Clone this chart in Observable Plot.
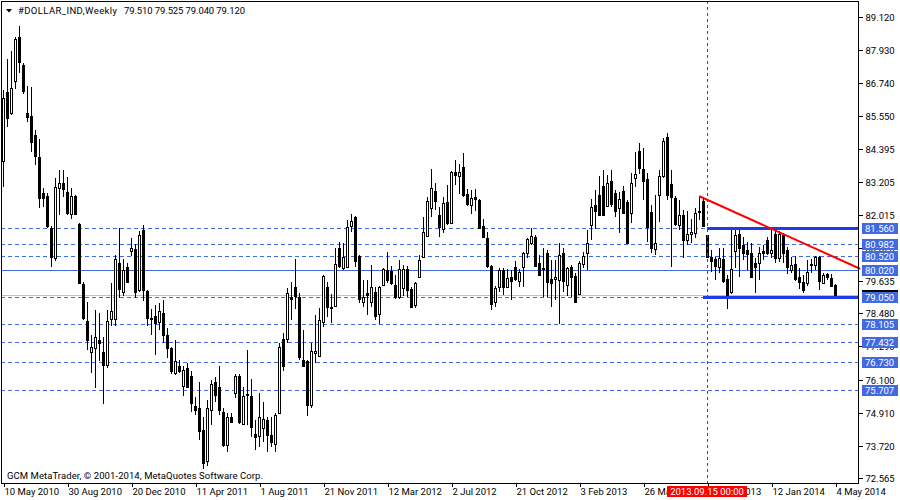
<!DOCTYPE html>
<html>
<head>
<meta charset="utf-8">
<script src="https://cdn.jsdelivr.net/npm/d3@7"></script>
<script src="https://cdn.jsdelivr.net/npm/@observablehq/plot@0.6"></script>
<style>
html,body{margin:0;padding:0;background:#fff;}
#chart svg{display:block;}
</style>
</head>
<body>
<div id="chart"></div>
<script>
// Weekly OHLC of #DOLLAR_IND, one entry per week from 10 May 2010 to 4 May 2014
const openP = [
83.95,86.42,85.66,86.83,88.39,87.40,85.66,85.57,84.88,84.09,
82.79,82.69,81.53,80.46,82.99,83.15,82.83,82.04,82.69,81.68,
79.52,78.21,77.10,77.23,77.53,77.08,76.63,78.28,78.28,80.28,
79.24,80.16,80.72,80.79,79.32,81.47,79.28,78.30,78.40,78.16,
78.48,77.70,77.24,76.33,76.57,75.87,76.51,76.24,75.15,75.07,
74.29,73.16,75.01,76.03,75.83,74.93,73.75,74.77,75.61,76.21,
74.51,75.53,75.51,74.15,74.08,74.35,74.65,74.11,73.79,74.89,
77.55,77.55,79.06,79.41,79.06,76.81,76.75,75.17,77.05,76.95,
78.18,79.41,78.72,78.74,80.82,80.10,80.13,81.62,81.95,80.54,
78.90,79.20,78.90,79.26,78.46,79.50,80.04,80.01,79.50,79.06,
79.40,80.06,79.34,78.78,79.77,80.51,81.27,82.25,82.87,82.01,
81.50,82.49,81.71,83.57,83.41,83.72,82.77,82.37,82.65,82.55,
81.62,81.17,80.18,78.90,79.44,80.04,79.44,79.77,80.16,79.65,
80.16,80.64,81.02,81.21,80.28,80.12,80.64,79.70,79.70,79.68,
80.66,79.50,80.16,79.82,79.17,80.25,80.66,81.65,82.37,82.73,
83.05,82.33,83.23,82.81,82.25,82.88,82.49,82.09,83.33,84.32,
83.65,83.29,82.13,80.78,82.73,83.41,84.82,83.12,82.61,81.65,
82.01,81.11,81.33,81.37,82.10,82.52,81.29,80.49,80.42,80.13,
80.42,79.70,79.26,80.73,81.33,80.93,80.76,80.66,80.28,80.30,
80.73,81.11,80.66,81.33,80.46,81.29,80.76,80.02,80.25,79.80,
79.62,79.56,80.25,80.22,80.49,79.58,79.89,79.74,79.51];
const highP = [
86.50,87.62,87.90,88.41,88.78,87.46,86.65,86.62,85.06,84.74,
82.97,82.79,81.62,83.33,83.63,83.63,83.39,82.97,82.72,81.71,
79.61,78.88,77.70,78.60,78.48,77.64,78.60,79.56,80.58,81.53,
80.43,80.28,81.20,80.96,81.44,81.65,79.30,78.64,78.78,78.84,
78.96,77.94,77.26,77.52,76.81,76.57,76.69,76.39,75.49,76.03,
74.77,75.37,76.09,76.18,76.57,75.07,74.91,74.91,76.30,76.30,
75.85,77.17,76.11,74.65,75.61,75.31,74.77,74.77,74.89,77.43,
77.76,79.38,79.62,80.42,79.20,77.88,76.80,77.41,78.43,78.66,
79.86,79.62,79.17,80.82,81.05,81.00,81.83,82.05,81.98,80.58,
79.68,79.68,80.22,79.44,79.46,80.10,80.69,80.18,79.86,80.40,
80.20,80.18,79.44,79.62,80.58,81.95,82.67,83.65,83.17,82.31,
82.67,83.09,83.60,83.99,83.84,84.23,82.93,82.91,82.93,82.58,
81.86,81.41,80.20,79.46,80.10,80.10,80.06,80.04,80.34,80.06,
80.69,81.18,81.53,81.29,80.58,80.82,80.76,80.40,80.40,80.99,
80.82,80.16,80.22,79.92,80.34,80.69,81.47,82.57,82.91,83.41,
83.63,83.45,83.63,82.91,82.85,83.05,82.55,83.53,84.28,84.61,
84.41,83.51,82.37,82.73,83.63,84.76,84.94,83.63,82.69,82.55,
82.19,82.17,81.86,82.25,82.69,82.57,81.30,80.76,80.49,80.82,
80.82,79.86,81.47,81.47,81.50,81.23,81.05,80.99,80.46,80.87,
80.93,81.21,81.47,81.50,81.42,81.35,80.87,80.51,80.54,80.10,
79.86,80.40,80.42,80.54,80.52,79.92,79.92,79.89,79.525];
const lowP = [
83.00,85.18,85.60,86.55,87.10,86.34,85.34,84.28,83.81,82.25,
82.31,81.53,80.16,80.34,82.01,82.67,82.01,81.87,82.00,79.52,
78.24,77.17,76.33,75.81,76.75,75.22,76.51,78.01,78.01,79.04,
79.11,79.56,80.55,79.04,79.24,78.92,78.01,77.70,76.99,77.88,
77.41,76.87,76.29,76.27,76.33,75.51,75.79,74.95,74.83,73.93,
72.88,72.98,74.47,75.31,74.83,73.69,73.49,74.53,75.43,74.51,
74.48,74.47,74.05,73.57,73.69,73.84,73.51,73.69,73.51,74.85,
76.39,77.43,78.24,78.63,76.81,76.57,74.80,75.07,76.69,76.90,
78.00,78.36,78.12,78.70,80.10,80.04,80.10,81.41,80.16,78.86,
78.72,78.42,78.72,78.24,78.10,79.47,79.56,79.50,78.98,78.98,
79.10,79.08,78.66,78.66,79.74,80.49,81.23,81.95,82.19,81.23,
81.37,81.65,81.68,83.09,82.77,82.65,82.34,82.05,82.17,81.50,
81.17,80.10,78.58,78.72,79.26,79.14,79.40,78.96,79.65,79.44,
79.44,80.45,80.93,80.13,79.82,79.08,79.08,78.72,78.96,78.10,
79.26,79.10,79.06,78.86,79.14,80.10,80.04,81.11,81.50,82.00,
81.98,82.29,82.29,81.95,81.35,82.07,80.99,81.73,83.03,83.48,
82.55,81.05,80.66,80.58,81.77,83.33,82.55,80.16,81.62,81.47,
80.48,80.93,80.99,81.17,81.83,81.59,80.45,79.98,79.68,79.92,
79.56,78.63,79.17,80.10,79.77,80.40,80.04,79.77,79.22,79.68,
80.40,80.58,80.46,80.28,80.33,80.28,79.89,79.92,79.65,79.34,
79.20,79.46,79.92,80.02,79.32,79.54,79.68,79.44,79.04];
const closeP = [
86.21,85.50,86.56,88.33,87.49,86.46,85.54,84.64,84.14,82.63,
82.61,81.63,80.49,83.03,83.15,82.94,82.09,82.69,82.05,79.58,
78.30,77.53,77.28,77.64,77.41,76.63,78.21,78.57,80.43,79.35,
80.04,79.60,80.82,79.26,81.29,79.32,78.32,78.26,78.12,78.57,
77.70,77.24,76.41,76.75,76.42,76.45,75.85,75.25,74.99,74.27,
73.10,75.07,75.94,75.55,74.99,73.75,74.77,74.57,76.21,74.59,
75.51,75.58,74.38,74.03,74.77,74.69,74.11,73.84,74.83,77.26,
76.57,79.20,78.98,79.10,76.90,76.60,75.17,77.14,77.13,78.24,
79.82,78.70,78.66,80.25,80.18,80.50,81.57,81.81,80.37,78.98,
79.06,79.14,79.41,78.38,79.41,80.06,79.68,79.56,79.08,80.06,
80.06,79.30,78.72,79.56,80.40,81.39,82.51,82.97,82.52,81.59,
82.45,81.73,83.57,83.45,83.57,82.73,82.41,82.61,82.57,81.53,
81.21,80.18,78.82,79.38,80.04,79.41,79.74,79.65,79.70,79.98,
80.64,81.14,81.26,80.18,79.86,80.08,79.62,79.58,79.77,80.58,
79.65,80.10,79.77,78.88,80.28,80.54,81.02,82.29,82.17,82.01,
82.01,83.15,82.41,82.17,82.57,82.09,81.02,83.17,83.48,83.69,
83.24,81.57,80.82,80.99,83.41,84.68,82.73,82.65,81.69,82.01,
81.11,81.33,81.41,82.07,82.16,81.62,80.51,80.34,80.18,80.46,
79.65,79.06,80.06,81.29,80.82,80.66,80.61,79.77,80.16,80.64,
80.66,80.64,80.76,80.46,81.33,80.66,80.13,80.22,79.70,79.62,
79.30,79.98,80.22,80.51,79.65,79.86,79.77,79.46,79.12];

// Time axis (week index -> label)
const xTickIdx = [0,16,32,48,64,80,96,112,128,144,160,176,192,208];
const xTickLabels = ["10 May 2010","30 Aug 2010","20 Dec 2010","11 Apr 2011","1 Aug 2011",
  "21 Nov 2011","12 Mar 2012","2 Jul 2012","21 Oct 2012","3 Feb 2013","26 May 2013",
  "15 Sep 2013","12 Jan 2014","4 May 2014"];
// Price axis ticks
const yTicks = [89.12,87.93,86.74,85.55,84.395,83.205,82.015,80.825,79.635,78.48,77.29,76.1,74.91,73.72,72.565];

// Horizontal levels
const dashedLevels = [81.56,80.982,80.52,79.05,78.105,77.432,76.73,75.707];
const solidLevel = 80.02;
const bidPrice = 79.12;
const labelLevels = [81.56,80.982,80.52,80.02,79.05,78.105,77.432,76.73,75.707];
const thickLevels = [81.56, 79.05];
const thickStartIdx = [176, 175];
// Trend line (week index, price)
const trendIdx = [174.1, 214.0];
const trendPrice = [82.70, 80.095];
// Vertical marker
const markerIdx = 176;
const markerLabel = "2013.09.15 00:00";
const titleSymbol = "#DOLLAR_IND,Weekly";
const titleQuote = "79.510 79.525 79.040 79.120";
const footerText = "GCM MetaTrader, \u00A9 2001-2014, MetaQuotes Software Corp.";

const FONT = "Roboto, 'Liberation Sans', sans-serif";
const FS = 9.5;
const BLUE = "#4169E1";
const THICK = "#1E3CE6";

const candles = openP.map((o, i) => ({
  i, o, h: highP[i], l: lowP[i], c: closeP[i],
  lo: Math.min(o, closeP[i]), hi: Math.max(o, closeP[i]), bull: closeP[i] > o
}));
const bulls = candles.filter(d => d.bull);
const labelMap = new Map(xTickIdx.map((d, k) => [d, xTickLabels[k]]));

function overlay(index, scales) {
  const x = scales.x, y = scales.y;
  const g = d3.create("svg:g").attr("font-family", FONT).attr("font-size", FS).attr("text-anchor", "start");
  // bid label (mostly hidden)
  const yb = Math.round(y(bidPrice));
  g.append("rect").attr("x", 862).attr("y", yb - 5).attr("width", 36).attr("height", 11).attr("fill", "black");
  for (const v of labelLevels) {
    const yy = Math.round(y(v));
    g.append("rect").attr("x", 862).attr("y", yy - 5).attr("width", 36).attr("height", 11).attr("fill", BLUE);
    g.append("text").attr("x", 865).attr("y", yy + 4).attr("fill", "white").text(v.toFixed(3));
  }
  // red time label
  const xr = Math.round(x(markerIdx));
  g.append("rect").attr("x", xr - 40).attr("y", 486).attr("width", 80).attr("height", 11).attr("fill", "#ff0000");
  g.append("text").attr("x", xr).attr("y", 495).attr("text-anchor", "middle").attr("fill", "white").text(markerLabel);
  // title
  g.append("path").attr("d", "M6,9L12,9L9,12.5Z").attr("fill", "black");
  g.append("text").attr("x", 18).attr("y", 14).attr("fill", "black")
    .attr("textLength", 99).attr("lengthAdjust", "spacing").text(titleSymbol);
  g.append("text").attr("x", 124).attr("y", 14).attr("fill", "black")
    .attr("textLength", 121).attr("lengthAdjust", "spacing").text(titleQuote);
  // footer
  g.append("text").attr("x", 7).attr("y", 479).attr("fill", "black")
    .attr("textLength", 256).attr("lengthAdjust", "spacing").text(footerText);
  return g.node();
}

const chart = Plot.plot({
  width: 900,
  height: 500,
  marginTop: 1,
  marginLeft: 1,
  marginRight: 42,
  marginBottom: 17,
  style: {fontFamily: FONT, fontSize: FS + "px", background: "white", color: "black", overflow: "visible"},
  x: {type: "linear", domain: [-0.5, 213.75]},
  y: {type: "linear", domain: [72.385, 89.695], round: true},
  marks: [
    Plot.ruleY(dashedLevels, {stroke: BLUE, strokeDasharray: "4,3"}),
    Plot.ruleY([solidLevel], {stroke: BLUE}),
    Plot.ruleY([bidPrice], {stroke: "#c0c0c0"}),
    Plot.ruleX(candles, {x: "i", y1: "l", y2: "h", stroke: "black"}),
    Plot.rect(candles, {x1: d => d.i - 0.25, x2: d => d.i + 0.5, y1: "lo", y2: "hi", fill: "black", insetTop: 0, insetBottom: -1}),
    Plot.rect(bulls, {x1: d => d.i, x2: d => d.i + 0.25, y1: "lo", y2: "hi", fill: "white", insetTop: 1, insetBottom: 0}),
    Plot.ruleY(thickLevels.map((v, k) => ({v, s: thickStartIdx[k]})), {y: "v", x1: "s", x2: 213.75, stroke: THICK, strokeWidth: 3}),
    Plot.line(trendIdx.map((v, k) => ({x: v, y: trendPrice[k]})), {x: "x", y: "y", stroke: "#ff0000", strokeWidth: 2}),
    Plot.ruleX([markerIdx], {stroke: "#ff0000", strokeDasharray: "3,3"}),
    Plot.frame({stroke: "black"}),
    Plot.axisY({anchor: "right", ticks: yTicks, tickFormat: d => d.toFixed(3), tickSize: 4, tickPadding: 3, label: null, fontSize: FS}),
    Plot.axisX({anchor: "bottom", ticks: xTickIdx, tickFormat: d => labelMap.get(d), tickSize: 4, tickPadding: 1, textAnchor: "start", dx: 1, label: null, fontSize: FS}),
    overlay
  ]
});
document.getElementById("chart").appendChild(chart);
</script>
</body>
</html>
